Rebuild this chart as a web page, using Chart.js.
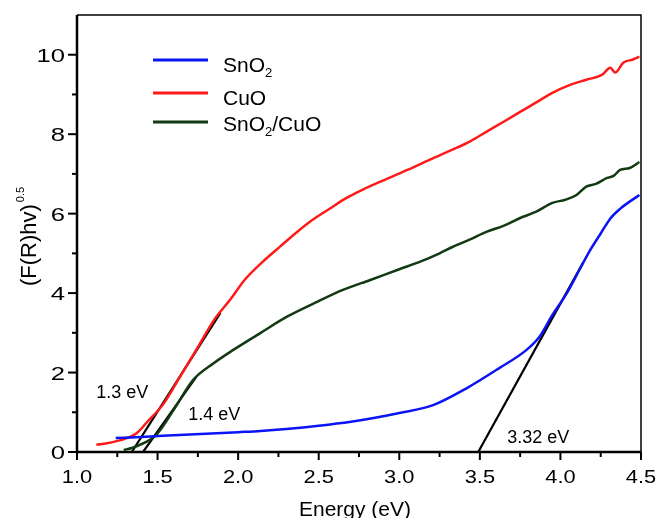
<!DOCTYPE html>
<html>
<head>
<meta charset="utf-8">
<script src="https://cdn.jsdelivr.net/npm/chart.js@4.4.0/dist/chart.umd.min.js"></script>
<style>
  html, body { margin: 0; padding: 0; background: #fff; }
</style>
</head>
<body>
<canvas id="chart" width="657" height="518"></canvas>
<script>
// values: energy (eV) vs (F(R)hv)^0.5
const sno2Energy = [1.24, 1.4, 1.6, 1.8, 2.0, 2.14, 2.3, 2.5, 2.7, 2.85, 3.0, 3.21, 3.42, 3.62, 3.79, 3.87, 3.95, 4.04, 4.12, 4.18, 4.25, 4.31, 4.37, 4.49];
const sno2Values = [0.35, 0.38, 0.42, 0.46, 0.5, 0.53, 0.58, 0.66, 0.76, 0.86, 0.98, 1.18, 1.61, 2.11, 2.57, 2.9, 3.45, 4.0, 4.6, 5.05, 5.5, 5.88, 6.12, 6.47];

const cuoEnergy = [1.12, 1.2, 1.27, 1.33, 1.37, 1.43, 1.54, 1.64, 1.74, 1.85, 1.95, 2.04, 2.15, 2.26, 2.36, 2.46, 2.57, 2.67, 2.78, 2.88, 3.05, 3.19, 3.33, 3.44, 3.54, 3.65, 3.75, 3.85, 3.95, 4.06, 4.16, 4.26, 4.31, 4.34, 4.39, 4.45, 4.49];
const cuoValues = [0.18, 0.23, 0.3, 0.38, 0.47, 0.73, 1.23, 1.9, 2.57, 3.32, 3.83, 4.33, 4.78, 5.17, 5.52, 5.84, 6.13, 6.39, 6.62, 6.8, 7.1, 7.36, 7.61, 7.82, 8.06, 8.32, 8.56, 8.8, 9.04, 9.24, 9.37, 9.5, 9.67, 9.55, 9.8, 9.88, 9.95];

const mixEnergy = [1.29, 1.34, 1.39, 1.45, 1.5, 1.6, 1.72, 1.85, 1.97, 2.14, 2.3, 2.5, 2.65, 2.82, 3.0, 3.13, 3.25, 3.33, 3.44, 3.54, 3.65, 3.75, 3.85, 3.95, 4.03, 4.1, 4.16, 4.22, 4.29, 4.33, 4.37, 4.43, 4.49];
const mixValues = [0.05, 0.1, 0.18, 0.3, 0.47, 1.06, 1.81, 2.24, 2.57, 3.0, 3.4, 3.8, 4.08, 4.33, 4.6, 4.79, 5.0, 5.16, 5.35, 5.54, 5.7, 5.89, 6.05, 6.27, 6.35, 6.47, 6.68, 6.75, 6.9, 6.95, 7.1, 7.15, 7.3];

// band gap tangent lines
const fitCuoEnergy = [1.34, 1.89];
const fitCuoValues = [0, 3.5];
const fitMixEnergy = [1.41, 1.74];
const fitMixValues = [0, 1.89];
const fitSno2Energy = [3.49, 4.14];
const fitSno2Values = [0, 4.76];

const xTicks = [1.0, 1.5, 2.0, 2.5, 3.0, 3.5, 4.0, 4.5];
const yTicks = [0, 2, 4, 6, 8, 10];

const gapLabels = ['1.3 eV', '1.4 eV', '3.32 eV'];
const gapLabelAt = [[1.12, 1.49], [1.69, 0.94], [3.67, 0.36]];

const FONT = "'Liberation Sans', Arial, Helvetica, sans-serif";

function toPoints(xs, ys) {
    return xs.map((x, i) => ({ x: x, y: ys[i] }));
}

function curve(label, xs, ys, color) {
    return {
        label: label,
        data: toPoints(xs, ys),
        borderColor: color,
        borderWidth: 2.5,
        pointRadius: 0,
        showLine: true,
        cubicInterpolationMode: 'monotone',
        fill: false,
    };
}

function fitLine(xs, ys) {
    return {
        label: 'fit',
        data: toPoints(xs, ys),
        borderColor: '#000',
        borderWidth: 2.2,
        pointRadius: 0,
        showLine: true,
        tension: 0,
    };
}

// draws text pieces, a piece with a shift is a smaller sub/superscript
function drawPieces(ctx, pieces, x, y, size) {
    pieces.forEach(p => {
        const s = p[1] ? p[2] : size;
        ctx.font = s + 'px ' + FONT;
        ctx.fillText(p[0], x, y + (p[1] ? p[1] : 0));
        x += ctx.measureText(p[0]).width + (p[3] || 0);
    });
}

// the tick numbers in the figure are a bit wider than the font
function wideText(ctx, text, x, y, stretch) {
    ctx.save();
    ctx.translate(x, y);
    ctx.scale(stretch, 1);
    ctx.fillText(text, 0, 0);
    ctx.restore();
}

// no extra room for half tick labels, the plot box is placed by layout padding
function fixScale(s, key, size) {
    s[key] = size;
    s.paddingTop = 0;
    s.paddingBottom = 0;
    s.paddingLeft = 0;
    s.paddingRight = 0;
}

const frame = {
    id: 'frame',
    afterDraw(chart) {
        const ctx = chart.ctx;
        const { left, right, top, bottom } = chart.chartArea;
        const xs = chart.scales.x, ys = chart.scales.y;
        ctx.save();
        ctx.strokeStyle = '#000';

        // box
        ctx.lineWidth = 1.5;
        ctx.beginPath();
        ctx.moveTo(left, top); ctx.lineTo(right, top); ctx.lineTo(right, bottom);
        ctx.stroke();
        ctx.lineWidth = 2.5;
        ctx.beginPath();
        ctx.moveTo(left, top); ctx.lineTo(left, bottom); ctx.lineTo(right, bottom);
        ctx.stroke();

        // tick marks, minor every 0.25 eV and every 1 unit
        ctx.lineWidth = 2;
        for (let v = 1.0; v <= 4.5001; v += 0.25) {
            const px = xs.getPixelForValue(v);
            const major = Math.abs(v * 2 - Math.round(v * 2)) < 1e-6;
            ctx.beginPath();
            ctx.moveTo(px, bottom);
            ctx.lineTo(px, bottom + (major ? 8 : 5));
            ctx.stroke();
        }
        for (let v = 0; v <= 10; v += 1) {
            const py = ys.getPixelForValue(v);
            ctx.beginPath();
            ctx.moveTo(left, py);
            ctx.lineTo(left - (v % 2 === 0 ? 9 : 5), py);
            ctx.stroke();
        }

        ctx.fillStyle = '#000';

        // tick numbers
        ctx.font = '19px ' + FONT;
        ctx.textBaseline = 'alphabetic';
        ctx.textAlign = 'center';
        xTicks.forEach(v => wideText(ctx, v.toFixed(1), xs.getPixelForValue(v), bottom + 31, 1.15));
        ctx.textAlign = 'right';
        yTicks.forEach(v => wideText(ctx, String(v), left - 12, ys.getPixelForValue(v) + 7, 1.35));

        ctx.textAlign = 'left';

        // gap labels
        ctx.font = '18px ' + FONT;
        ctx.textBaseline = 'middle';
        gapLabels.forEach((t, i) => {
            const p = gapLabelAt[i];
            ctx.fillText(t, xs.getPixelForValue(p[0]), ys.getPixelForValue(p[1]));
        });
        ctx.textBaseline = 'alphabetic';

        // legend
        const entries = [
            { color: chart.data.datasets[0].borderColor, pieces: [['SnO'], ['2', 5, 13]] },
            { color: chart.data.datasets[1].borderColor, pieces: [['CuO']] },
            { color: chart.data.datasets[2].borderColor, pieces: [['SnO'], ['2', 5, 13], ['/CuO']] },
        ];
        const lineY = [60, 93, 122];
        const textY = [72, 105, 131];
        entries.forEach((e, i) => {
            ctx.strokeStyle = e.color;
            ctx.lineWidth = 3;
            ctx.beginPath();
            ctx.moveTo(153, lineY[i]);
            ctx.lineTo(208, lineY[i]);
            ctx.stroke();
            drawPieces(ctx, e.pieces, 223, textY[i], 21);
        });

        // axis titles
        ctx.font = '21px ' + FONT;
        ctx.textAlign = 'center';
        ctx.fillText('Energy (eV)', 355, 516);

        ctx.translate(36, 286);
        ctx.rotate(-Math.PI / 2);
        ctx.textAlign = 'left';
        drawPieces(ctx, [['(F(R)hv)', 0, 22, 2], ['0.5', -12, 11]], 0, 0, 22);
        ctx.restore();
    }
};

new Chart(document.getElementById('chart'), {
    type: 'scatter',
    data: {
        datasets: [
            curve('SnO2', sno2Energy, sno2Values, '#0a14f5'),
            curve('CuO', cuoEnergy, cuoValues, '#ff1a1a'),
            curve('SnO2/CuO', mixEnergy, mixValues, '#123a12'),
            fitLine(fitCuoEnergy, fitCuoValues),
            fitLine(fitMixEnergy, fitMixValues),
            fitLine(fitSno2Energy, fitSno2Values),
        ]
    },
    options: {
        responsive: false,
        animation: false,
        layout: { padding: { top: 15, right: 16, left: 0, bottom: 0 } },
        plugins: {
            legend: { display: false },
            tooltip: { enabled: false },
        },
        scales: {
            x: {
                type: 'linear',
                min: 1.0,
                max: 4.5,
                afterFit: (s) => fixScale(s, 'height', 66),
                afterBuildTicks: (s) => { s.ticks = xTicks.map(v => ({ value: v })); },
                grid: { display: false },
                border: { display: false },
                ticks: { display: false },
            },
            y: {
                min: 0,
                max: 11,
                afterFit: (s) => fixScale(s, 'width', 77),
                afterBuildTicks: (s) => { s.ticks = yTicks.map(v => ({ value: v })); },
                grid: { display: false },
                border: { display: false },
                ticks: { display: false },
            },
        },
    },
    plugins: [frame],
});
</script>
</body>
</html>
